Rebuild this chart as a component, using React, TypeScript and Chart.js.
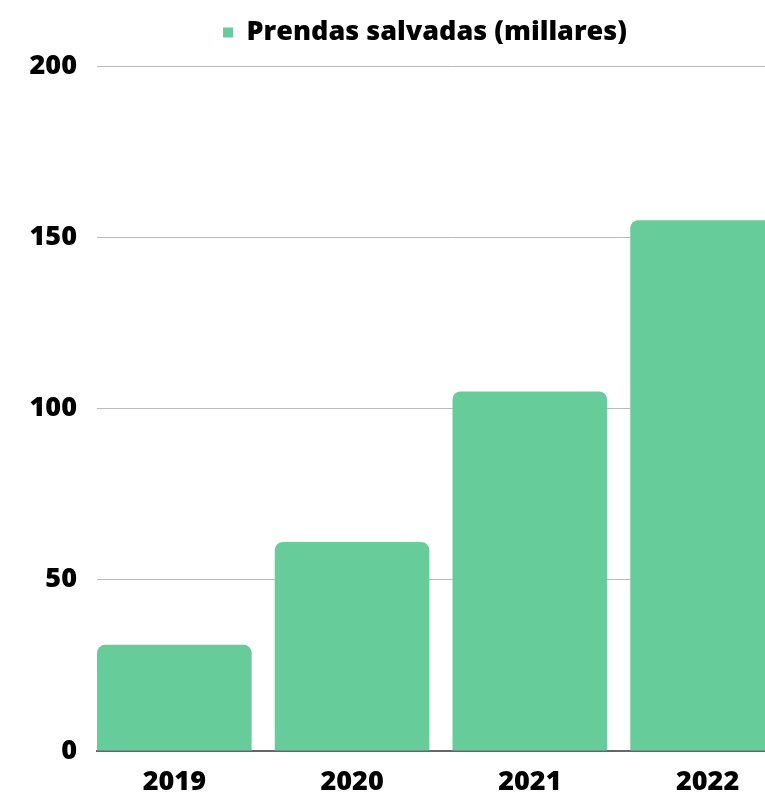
import React, { useEffect, useRef } from "react";
import { Chart, registerables } from "chart.js";

Chart.register(...registerables);

const categories = ["2019", "2020", "2021", "2022"];
const prendasValues = [31, 61, 105, 155];
const yTicks = [0, 50, 100, 150, 200];
const seriesLabel = "Prendas salvadas (millares)";

export default function App() {
  const ref = useRef<HTMLCanvasElement | null>(null);

  useEffect(() => {
    document.body.style.margin = "0";
    const ctx = ref.current!;
    const font = { family: "'Open Sans', sans-serif", size: 27, weight: "800" as any };
    const legendGap = {
      id: "legendGap",
      beforeInit(chart: any) {
        const lg = chart.legend;
        if (!lg) return;
        const origFit = lg.fit;
        lg.fit = function () {
          origFit.call(this);
          this.height += 10;
        };
        const origDraw = lg.draw;
        lg.draw = function (...args: any[]) {
          const c = this.ctx;
          c.save();
          c.translate(21, 0);
          origDraw.apply(this, args);
          c.restore();
        };
      },
    };
    const chart = new Chart(ctx, {
      type: "bar",
      data: {
        datasets: [
          {
            label: seriesLabel,
            data: prendasValues.map((v, i) => ({ x: i, y: v })),
            backgroundColor: "#66cc99",
            borderRadius: { topLeft: 8, topRight: 8, bottomLeft: 0, bottomRight: 0 },
            borderSkipped: "bottom",
            barPercentage: 0.87,
            categoryPercentage: 1,
          },
        ],
      },
      options: {
        animation: false,
        responsive: true,
        maintainAspectRatio: false,
        layout: { padding: { top: 9, right: 0, bottom: 0, left: 0 } },
        plugins: {
          legend: {
            display: true,
            position: "top",
            labels: {
              color: "#000",
              font,
              boxWidth: 10,
              boxHeight: 10,
              padding: 10,
            },
          },
          tooltip: { enabled: false },
        },
        scales: {
          x: {
            type: "linear",
            offset: false,
            min: -0.435,
            max: 3.565,
            afterBuildTicks: (scale: any) => {
              scale.ticks = categories.map((_, i) => ({ value: i }));
            },
            afterFit: (scale: any) => {
              scale.height = 45;
            },
            ticks: {
              color: "#000",
              font,
              padding: 15,
              autoSkip: false,
              maxRotation: 0,
              callback: (v: any) => categories[v] ?? "",
            },
            grid: { display: false, drawTicks: false },
            border: { display: true, color: "#666", width: 2 },
          },
          y: {
            min: 0,
            max: 200,
            afterBuildTicks: (scale: any) => {
              scale.ticks = yTicks.map((v) => ({ value: v }));
            },
            afterFit: (scale: any) => {
              scale.width = 97;
            },
            ticks: { color: "#000", font, padding: 20 },
            grid: { color: "#bbbbbb", lineWidth: 1, drawTicks: false },
            border: { display: false },
          },
        },
      },
      plugins: [legendGap],
    });
    return () => chart.destroy();
  }, []);

  return (
    <div style={{ width: 765, height: 796, overflow: "hidden", position: "relative" }}>
      <div style={{ width: 808, height: 796, position: "relative" }}>
        <canvas ref={ref} />
      </div>
    </div>
  );
}
